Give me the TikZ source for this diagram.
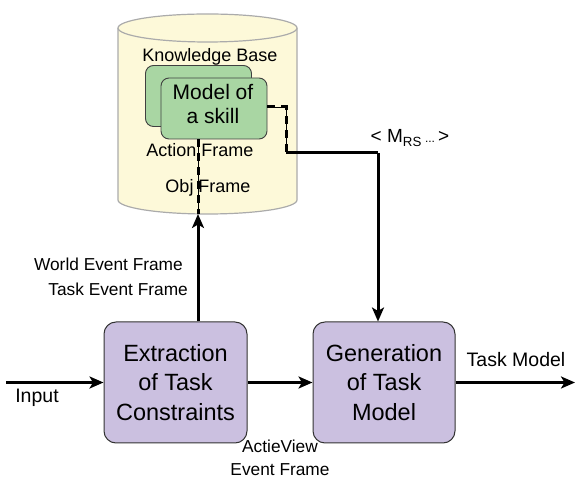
\documentclass[tikz,border=0pt]{standalone}
\usepackage{fontspec}
\setmainfont{Liberation Sans}
\usetikzlibrary{arrows.meta}
\definecolor{kbfill}{HTML}{FDF9D9}
\definecolor{kbline}{HTML}{ABABAB}
\definecolor{skillfill}{HTML}{A9D6A3}
\definecolor{procfill}{HTML}{CBC0E0}
\tikzset{
  skillbox/.style={draw=black!75, line width=0.9pt, fill=skillfill, rounded corners=8pt,
    minimum width=106pt, minimum height=61pt, inner sep=0pt},
  skilltext/.style={align=center, inner sep=0pt, font=\fontsize{21}{24}\selectfont},
  procbox/.style={draw=black!80, line width=1pt, fill=procfill, rounded corners=12pt,
    minimum width=143pt, minimum height=121pt, inner sep=0pt, align=center,
    font=\fontsize{23.5}{29.5}\selectfont},
  kblabel/.style={font=\fontsize{18}{21}\selectfont, inner sep=0pt},
  small/.style={font=\fontsize{17.3}{20}\selectfont, inner sep=0pt},
  io/.style={font=\fontsize{19.5}{22}\selectfont, inner sep=0pt},
  flow/.style={line width=3pt, -{Stealth[length=14pt, width=12pt, inset=3.5pt]}},
  link/.style={line width=3pt},
  thinlink/.style={line width=0.8pt},
  dashlink/.style={line width=3pt, dash pattern=on 8pt off 6pt},
}
\begin{document}
\begin{tikzpicture}[x=1pt,y=1pt]
\useasboundingbox (0,0) rectangle (576,479);

% knowledge base cylinder
\fill[kbfill] (118,451) -- (118,279)
  arc[start angle=180, end angle=360, x radius=89.5pt, y radius=14pt] -- (297,451) -- cycle;
\draw[kbline, line width=1.2pt] (118,451) -- (118,279)
  arc[start angle=180, end angle=360, x radius=89.5pt, y radius=14pt] -- (297,451);
\filldraw[fill=kbfill, draw=kbline, line width=1.2pt] (207.5,451) ellipse [x radius=89.5pt, y radius=14pt];

\node[kblabel] (kb) at (210,422) {Knowledge Base};
\node[skillbox] (skillback) at (198.5,383) {};
\node[skillbox] (skill) at (214,370.5) {};
\node[skilltext] (skilllbl) at (213,375.5) {Model of\\ a skill};
\node[kblabel] (action) at (200,329) {Action Frame};
\node[kblabel] (obj) at (208,291) {Obj Frame};

% processing blocks
\node[procbox] (extract) at (175.5,96.5) {Extraction\\ of Task\\ Constraints};
\node[procbox, minimum width=142pt] (generate) at (384,96.5) {Generation\\ of Task\\ Model};

% labels
\node[io] (inlbl) at (37,81) {Input};
\node[io] (outlbl) at (516,119) {Task Model};
\node[small, anchor=east] (world) at (183,215) {World Event Frame};
\node[small, anchor=east] (taskev) at (188,190) {Task Event Frame};
\node[small, align=center, font=\fontsize{17.3}{23}\selectfont] (actie) at (280,21) {ActieView\\ Event Frame};
\node[io, font=\fontsize{19}{22}\selectfont] (mrs) at (410,341) {< M\textsubscript{RS}\,{\fontsize{12}{12}\selectfont...}\,>};

% connector points
\coordinate (cylbot) at (198,265);
\coordinate (in) at (6,96.5);
\coordinate (out) at (575,96.5);
\coordinate (bendA) at (286,372);
\coordinate (bendB) at (286,326);
\coordinate (bendC) at (378,326);

% connectors
\draw[flow] (in) -- (extract.west);
\draw[flow] (extract.east) -- (generate.west);
\draw[flow] (generate.east) -- (out);
\draw[flow] (cylbot |- extract.north) -- (cylbot);
\draw[thinlink] (cylbot) -- (cylbot |- skill.south);
\draw[dashlink] (cylbot |- skill.south) -- (cylbot);
\draw[thinlink] (skill.east |- bendA) -- (bendA) -- (bendB);
\draw[dashlink] (skill.east |- bendA) -- (bendA) -- (bendB);
\draw[link] (bendB) -- (bendC);
\draw[flow] (bendC) -- (bendC |- generate.north);
\end{tikzpicture}
\end{document}
